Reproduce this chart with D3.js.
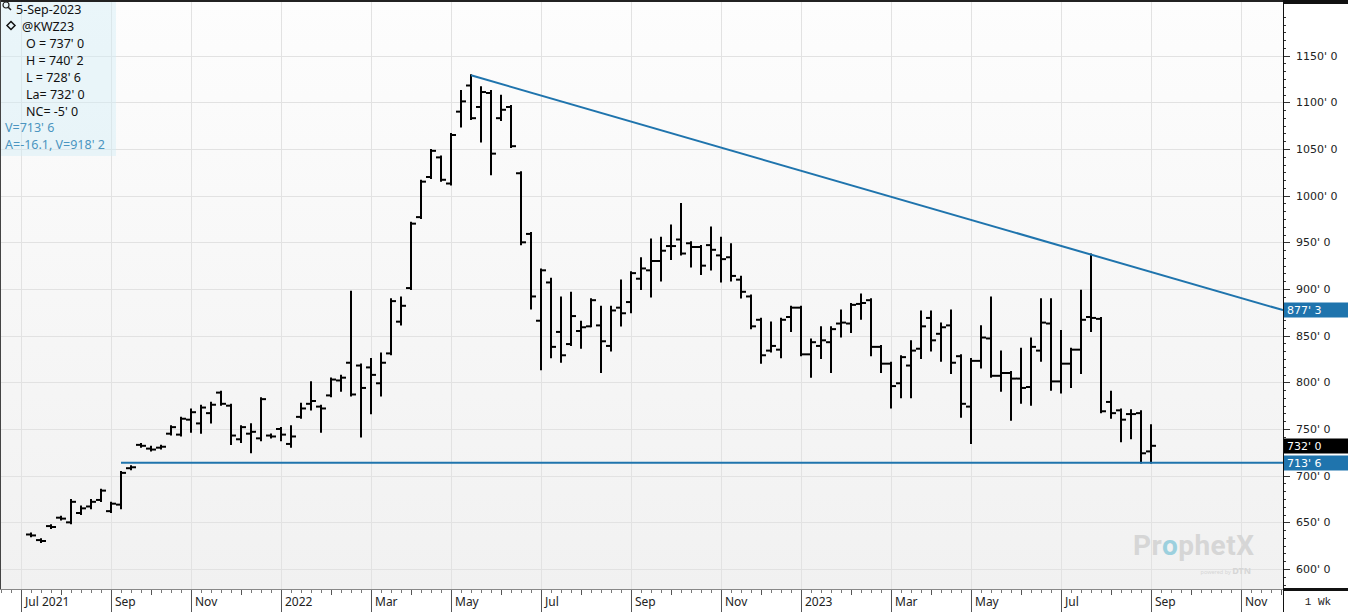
<!DOCTYPE html>
<html>
<head>
<meta charset="utf-8">
<script src="https://cdn.jsdelivr.net/npm/d3@7"></script>
<style>
  html, body { margin: 0; padding: 0; background: #fff; }
  svg { display: block; }
</style>
</head>
<body>
<svg id="chart" width="1348" height="612"></svg>
<script>
// @KWZ23 weekly bars, first bar is the week of 12-Jul-2021, last the week of 4-Sep-2023
const firstWeek = "2021-07-12"
const lastWeek = "2023-09-04"

const open = [637, 631, 646, 655, 650, 660, 667, 674, 662, 669, 708, 733, 729, 730, 745, 744, 760, 756, 767, 789,
  775, 739, 745, 740, 743, 750, 734, 763, 777, 774, 786, 802, 821, 818, 816, 799, 831, 865, 901, 977,
  1020, 1041, 1013, 1090, 1118, 1095, 1110, 1083, 1095, 1024, 959, 866, 907, 854, 841, 855, 860, 861, 839, 880,
  886, 911, 920, 930, 946, 953, 949, 945, 947, 936, 934, 910, 892, 867, 834, 835, 870, 880, 830, 839,
  843, 863, 863, 884, 888, 838, 820, 799, 818, 836, 869, 852, 861, 828, 774, 823, 847, 807, 810, 804,
  795, 834, 863, 801, 820, 835, 870, 868, 779, 770, 766, 767, 726]
const high = [638, 632, 647, 656, 674, 667, 674, 685, 671, 704, 710, 734, 731, 732, 753, 762, 771, 775, 778, 790,
  776, 753, 755, 783, 744, 751, 753, 777, 800, 775, 804, 807, 897, 819, 825, 831, 889, 891, 971, 1016,
  1049, 1042, 1066, 1112, 1129, 1116, 1112, 1107, 1096, 1025, 960, 921, 911, 891, 896, 865, 889, 881, 881, 909,
  918, 933, 953, 955, 968, 991, 950, 946, 966, 955, 948, 913, 893, 868, 864, 868, 881, 881, 846, 859,
  859, 877, 884, 894, 889, 839, 821, 828, 844, 876, 876, 863, 877, 829, 825, 860, 891, 833, 811, 836,
  847, 889, 889, 855, 836, 898, 937, 869, 790, 771, 770, 769, 754]
const low = [635, 629, 644, 653, 649, 659, 665, 673, 661, 665, 707, 731, 727, 729, 744, 743, 747, 746, 757, 776,
  734, 736, 725, 738, 741, 738, 731, 762, 771, 747, 785, 791, 786, 742, 767, 786, 830, 862, 900, 976,
  1019, 1016, 1012, 1074, 1082, 1058, 1023, 1081, 1052, 948, 879, 814, 827, 822, 840, 837, 860, 811, 834, 861,
  875, 900, 892, 909, 932, 937, 924, 916, 921, 908, 909, 891, 858, 821, 833, 827, 855, 829, 806, 826,
  811, 849, 854, 868, 829, 811, 773, 784, 784, 826, 834, 823, 810, 763, 735, 816, 806, 791, 760, 778,
  776, 823, 792, 789, 795, 810, 855, 768, 762, 737, 740, 714, 714]
const close = [636, 630, 645, 654, 672, 665, 672, 684, 670, 703, 709, 732, 728, 731, 752, 761, 768, 773, 776, 777,
  743, 752, 747, 782, 742, 744, 742, 772, 780, 772, 803, 805, 787, 794, 808, 821, 887, 882, 970, 1015,
  1048, 1017, 1065, 1101, 1083, 1111, 1045, 1092, 1053, 950, 892, 920, 838, 829, 871, 859, 888, 844, 877, 874,
  917, 922, 930, 941, 946, 938, 945, 925, 942, 932, 914, 897, 860, 829, 839, 867, 880, 830, 843, 845,
  857, 864, 883, 885, 838, 820, 796, 827, 834, 860, 845, 859, 821, 777, 823, 848, 807, 810, 804, 794,
  838, 864, 801, 820, 835, 867, 869, 769, 767, 760, 766, 724, 732]

const priceTicks = [600, 650, 700, 750, 800, 850, 900, 950, 1000, 1050, 1100, 1150]
const monthNames = ["Jan", "Feb", "Mar", "Apr", "May", "Jun", "Jul", "Aug", "Sep", "Oct", "Nov", "Dec"]

// drawn studies: falling trend line from the May 2022 high, flat support line
const trendAnchors = [["2022-05-16", 1129], ["2023-09-04", 918.25]]
const supportLevel = 713.75
const supportFrom = "2021-09-13"

const legendTitle = "5-Sep-2023"
const legendSymbol = "@KWZ23"
const legendRows = ["O = 737' 0", "H = 740' 2", "L = 728' 6", "La= 732' 0", "NC= -5' 0"]
const studyRows = ["V=713' 6", "A=-16.1, V=918' 2"]
const lastPrice = 732

const W = 1348, H = 612
const plotRight = 1283, plotBottom = 589
const blue = "#1f74ad"

const parse = d3.timeParse("%Y-%m-%d")
const weeks = d3.timeMonday.range(parse(firstWeek), d3.timeDay.offset(parse(lastWeek), 1))
const bars = weeks.map((d, i) => ({ date: d, o: open[i], h: high[i], l: low[i], c: close[i] }))

// one bar every 10px, month boundaries fall on the first weekly bar of the month
const x = d3.scaleTime()
  .domain([parse("2021-07-05"), parse(lastWeek)])
  .range([21, 1151])
const y = d3.scaleLinear()
  .domain([578.6, 1209.6])
  .range([plotBottom, 0])

// price in the ProphetX eighths style, 877.375 -> 877' 3
const fmt = v => {
  const whole = Math.floor(v)
  return whole + "' " + Math.round((v - whole) * 8)
}

const svg = d3.select("#chart")
const defs = svg.append("defs")
const grad = defs.append("linearGradient").attr("id", "bg").attr("x1", 0).attr("y1", 0).attr("x2", 0).attr("y2", 1)
grad.append("stop").attr("offset", "0%").attr("stop-color", "#fdfdfd")
grad.append("stop").attr("offset", "100%").attr("stop-color", "#f1f1f1")
defs.append("clipPath").attr("id", "plotClip")
  .append("rect").attr("x", 0).attr("y", 0).attr("width", plotRight).attr("height", plotBottom)

svg.append("rect").attr("width", W).attr("height", H).attr("fill", "#fff")
svg.append("rect")
  .attr("width", plotRight).attr("height", plotBottom)
  .attr("fill", "url(#bg)")

// month ticks: first monday of every month inside the visible range
const visibleEnd = x.invert(plotRight)
const months = d3.timeMonth.range(d3.timeMonth.floor(x.invert(0)), visibleEnd)
  .map(m => ({ month: m, date: d3.timeMonday.ceil(m) }))
  .filter(d => x(d.date) >= 0 && x(d.date) <= plotRight)
const labelled = months.filter(d => d.month.getMonth() % 2 === 0)

const plot = svg.append("g").attr("clip-path", "url(#plotClip)")

// grid
plot.append("g")
  .selectAll("line")
  .data(priceTicks)
  .join("line")
  .attr("x1", 0).attr("x2", plotRight)
  .attr("y1", d => Math.round(y(d)) + 0.5).attr("y2", d => Math.round(y(d)) + 0.5)
  .attr("stroke", "#e2e2e2")
plot.append("g")
  .selectAll("line")
  .data(labelled)
  .join("line")
  .attr("x1", d => Math.round(x(d.date)) + 0.5).attr("x2", d => Math.round(x(d.date)) + 0.5)
  .attr("y1", 0).attr("y2", plotBottom)
  .attr("stroke", "#e2e2e2")

// watermark
const mark = svg.append("text")
  .attr("x", 1133).attr("y", 555)
  .attr("font-family", "Roboto, 'Noto Sans', sans-serif")
  .attr("font-weight", 700)
  .attr("font-size", 28)
  .attr("textLength", 121)
  .attr("fill", "#d6d6d6")
mark.append("tspan").text("Pr")
mark.append("tspan").attr("fill", "#9cd0de").text("o")
mark.append("tspan").text("phetX")
const powered = svg.append("text")
  .attr("x", 1251).attr("y", 574)
  .attr("text-anchor", "end")
  .attr("font-family", "'Noto Sans', sans-serif")
  .attr("fill", "#d6d6d6")
powered.append("tspan").attr("font-size", 5.5).text("powered by ")
powered.append("tspan").attr("font-size", 9).attr("font-weight", 700).text("DTN")

// OHLC bars: open tick left, close tick right
const bar = plot.append("g")
  .attr("stroke", "#000")
  .attr("stroke-width", 2)
  .selectAll("g")
  .data(bars)
  .join("g")
  .attr("transform", d => `translate(${Math.round(x(d.date))},0)`)
bar.append("line")
  .attr("x1", 0).attr("x2", 0)
  .attr("y1", d => y(d.h) - 1).attr("y2", d => y(d.l) + 1)
bar.append("line")
  .attr("x1", -5).attr("x2", 0)
  .attr("y1", d => y(d.o)).attr("y2", d => y(d.o))
bar.append("line")
  .attr("x1", 0).attr("x2", 5)
  .attr("y1", d => y(d.c)).attr("y2", d => y(d.c))

// trend line, extended to the right edge
const tDates = trendAnchors.map(d => parse(d[0]))
const trend = d3.scaleLinear()
  .domain(tDates.map(d => +d))
  .range(trendAnchors.map(d => d[1]))
plot.append("line")
  .attr("x1", x(tDates[0])).attr("y1", y(trend(+tDates[0])))
  .attr("x2", plotRight).attr("y2", y(trend(+visibleEnd)))
  .attr("stroke", blue).attr("stroke-width", 2)
plot.append("line")
  .attr("x1", x(parse(supportFrom))).attr("x2", plotRight)
  .attr("y1", y(supportLevel)).attr("y2", y(supportLevel))
  .attr("stroke", blue).attr("stroke-width", 2)

// legend
const legend = svg.append("g")
  .attr("font-family", "'Noto Sans', 'Open Sans', sans-serif")
  .attr("font-size", 12.5)
legend.append("rect")
  .attr("width", 116).attr("height", 156)
  .attr("fill", "#d2eef7").attr("opacity", 0.45)
legend.append("circle").attr("cx", 6).attr("cy", 5).attr("r", 3)
  .attr("fill", "none").attr("stroke", "#222").attr("stroke-width", 1.2)
legend.append("line").attr("x1", 8.2).attr("y1", 7.2).attr("x2", 11).attr("y2", 10)
  .attr("stroke", "#222").attr("stroke-width", 1.6)
legend.append("path").attr("d", "M11,21.5 L15,25.5 L11,29.5 L7,25.5 Z")
  .attr("fill", "none").attr("stroke", "#111").attr("stroke-width", 1.5)
legend.append("text").attr("x", 16).attr("y", 14).attr("fill", "#111").text(legendTitle)
legend.append("text").attr("x", 22).attr("y", 31).attr("fill", "#111").text(legendSymbol)
legend.selectAll("text.row")
  .data(legendRows)
  .join("text")
  .attr("class", "row")
  .attr("x", 26).attr("y", (d, i) => 47.5 + i * 17)
  .attr("fill", "#111")
  .text(d => d)
legend.selectAll("text.study")
  .data(studyRows)
  .join("text")
  .attr("class", "study")
  .attr("x", 5).attr("y", (d, i) => 132 + i * 17)
  .attr("fill", "#4b95c0")
  .text(d => d)

// frame
svg.append("rect").attr("x", 0).attr("y", 0).attr("width", plotRight).attr("height", 2).attr("fill", "#222")
svg.append("line").attr("x1", 0.5).attr("x2", 0.5).attr("y1", 0).attr("y2", H).attr("stroke", "#444")

// right price axis
const axisG = svg.append("g")
axisG.append("rect").attr("x", plotRight).attr("width", W - plotRight).attr("height", plotBottom).attr("fill", "#fff")
axisG.append("rect").attr("x", plotRight).attr("width", W - plotRight).attr("height", 4).attr("fill", "#111")
axisG.append("line")
  .attr("x1", plotRight + 0.5).attr("x2", plotRight + 0.5)
  .attr("y1", 0).attr("y2", H)
  .attr("stroke", "#111")
// six minor steps per 50
axisG.append("g")
  .attr("stroke", "#333")
  .selectAll("line")
  .data(d3.range(-1, 78).map(k => 550 + k * 50 / 6).filter(v => y(v) > 4 && y(v) < plotBottom))
  .join("line")
  .attr("x1", plotRight + 1)
  .attr("x2", d => plotRight + (Math.abs(d % 50) < 0.01 || Math.abs(d % 50 - 50) < 0.01 ? 7 : 3))
  .attr("y1", d => Math.round(y(d)) + 0.5).attr("y2", d => Math.round(y(d)) + 0.5)
axisG.append("g")
  .selectAll("text")
  .data(priceTicks)
  .join("text")
  .attr("x", 1296).attr("y", d => y(d)).attr("dy", "0.36em")
  .attr("font-family", "'DejaVu Sans', Verdana, sans-serif")
  .attr("font-size", 11)
  .attr("fill", "#222")
  .text(d => fmt(d))

// value flags on the price axis
const flags = [
  { v: trend(+visibleEnd), fill: blue },
  { v: lastPrice, fill: "#000" },
  { v: supportLevel, fill: blue }
]
const flag = axisG.append("g")
  .selectAll("g")
  .data(flags)
  .join("g")
  .attr("transform", d => `translate(${plotRight + 1},${Math.round(y(d.v)) - 7.5})`)
flag.append("rect").attr("width", W - plotRight - 1).attr("height", 15).attr("fill", d => d.fill)
flag.append("text")
  .attr("x", 3).attr("y", 7.5).attr("dy", "0.36em")
  .attr("font-family", "'DejaVu Sans', Verdana, sans-serif")
  .attr("font-size", 11)
  .attr("fill", "#fff")
  .text(d => fmt(d.v))

// time axis
const xAxis = svg.append("g")
xAxis.append("rect").attr("y", plotBottom + 1).attr("width", plotRight).attr("height", H - plotBottom - 1).attr("fill", "#fff")
xAxis.append("line").attr("x1", 0).attr("x2", plotRight).attr("y1", plotBottom + 0.5).attr("y2", plotBottom + 0.5).attr("stroke", "#888")
xAxis.append("g")
  .attr("stroke", "#777")
  .selectAll("line")
  .data(d3.timeMonday.range(x.invert(0), visibleEnd))
  .join("line")
  .attr("x1", d => Math.round(x(d)) + 0.5).attr("x2", d => Math.round(x(d)) + 0.5)
  .attr("y1", plotBottom + 1).attr("y2", plotBottom + 4)
xAxis.append("g")
  .attr("stroke", "#555")
  .selectAll("line")
  .data(months)
  .join("line")
  .attr("x1", d => Math.round(x(d.date)) + 0.5).attr("x2", d => Math.round(x(d.date)) + 0.5)
  .attr("y1", plotBottom + 1).attr("y2", d => d.month.getMonth() % 2 === 0 ? H : plotBottom + 6)
xAxis.append("g")
  .selectAll("text")
  .data(labelled)
  .join("text")
  .attr("x", d => Math.round(x(d.date)) + 4).attr("y", 606)
  .attr("font-family", "'Noto Sans', 'Open Sans', sans-serif")
  .attr("font-size", 12)
  .attr("fill", "#222")
  .text((d, i) => {
    const m = d.month.getMonth()
    if (m === 0) return d.month.getFullYear()
    return i === 0 ? monthNames[m] + " " + d.month.getFullYear() : monthNames[m]
  })

// interval box
svg.append("rect").attr("x", plotRight + 1).attr("y", plotBottom + 1).attr("width", W - plotRight - 1).attr("height", H - plotBottom - 1).attr("fill", "#fff")
svg.append("rect").attr("x", plotRight).attr("y", plotBottom - 1).attr("width", W - plotRight).attr("height", 3).attr("fill", "#111")
svg.append("text")
  .attr("x", 1318).attr("y", 605)
  .attr("text-anchor", "middle")
  .attr("font-family", "'Liberation Mono', monospace")
  .attr("font-size", 11)
  .attr("fill", "#222")
  .text("1 Wk")
</script>
</body>
</html>
